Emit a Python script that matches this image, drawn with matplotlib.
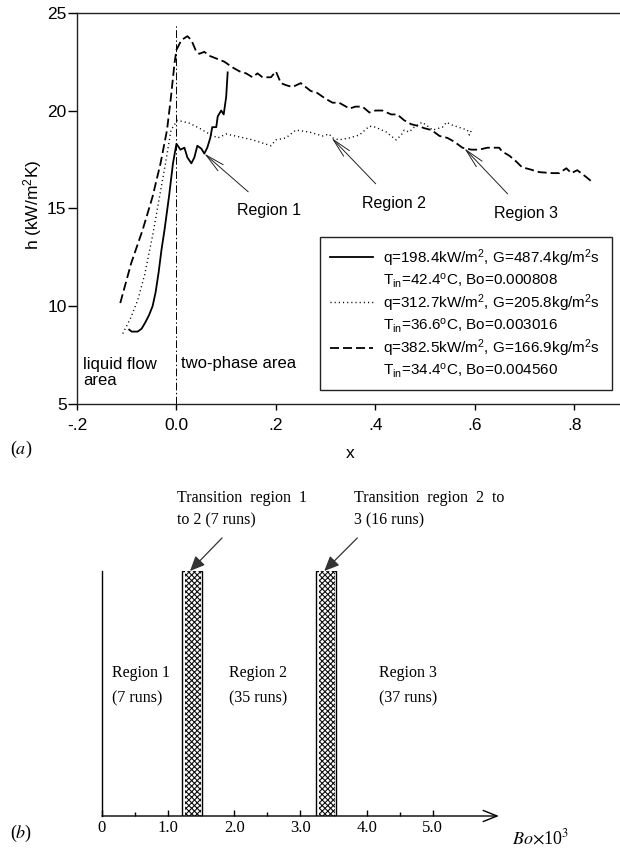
import matplotlib
matplotlib.use("Agg")
import matplotlib.pyplot as plt
from matplotlib.lines import Line2D

plt.rcParams['font.family'] = ['Liberation Sans', 'DejaVu Sans']
plt.rcParams['mathtext.fontset'] = 'custom'
plt.rcParams['mathtext.rm'] = 'Liberation Sans'
plt.rcParams['mathtext.it'] = 'Liberation Sans:italic'
plt.rcParams['mathtext.bf'] = 'Liberation Sans:bold'
plt.rcParams['hatch.linewidth'] = 0.8
plt.rcParams['hatch.color'] = 'black'

# ---------------- data (a) ----------------
solid_x = [-0.095, -0.09, -0.078, -0.07, -0.062, -0.055, -0.048, -0.042, -0.036, -0.03,
           -0.024, -0.015, -0.007, 0.0, 0.008, 0.016, 0.022, 0.03, 0.036, 0.042, 0.05,
           0.056, 0.062, 0.068, 0.072, 0.08, 0.083, 0.09, 0.095, 0.1, 0.103]
solid_h = [8.8, 8.7, 8.7, 8.85, 9.2, 9.55, 10.0, 10.7, 11.7, 12.9,
           13.9, 15.6, 17.3, 18.3, 18.0, 18.1, 17.6, 17.3, 17.6, 18.2, 18.05,
           17.8, 18.1, 18.6, 19.15, 19.15, 19.7, 20.0, 19.8, 20.7, 21.95]

dotted_x = [-0.108, -0.092, -0.078, -0.064, -0.048, -0.034, -0.022, -0.011, 0.002, 0.026,
            0.046, 0.066, 0.083, 0.1, 0.127, 0.153, 0.19, 0.2, 0.22, 0.24, 0.267, 0.294,
            0.307, 0.314, 0.327, 0.348, 0.368, 0.388, 0.40, 0.422, 0.434, 0.442, 0.452,
            0.458, 0.468, 0.478, 0.494, 0.508, 0.515, 0.535, 0.543, 0.555, 0.573, 0.585,
            0.589, 0.595]
dotted_h = [8.6, 9.4, 10.3, 11.6, 13.6, 15.6, 17.3, 19.0, 19.5, 19.35,
            19.1, 18.8, 18.6, 18.8, 18.65, 18.5, 18.2, 18.5, 18.6, 19.0, 18.9, 18.7,
            18.8, 18.6, 18.5, 18.6, 18.75, 19.2, 19.15, 18.9, 18.65, 18.5, 18.75,
            19.0, 18.9, 19.15, 19.4, 19.15, 19.0, 19.15, 19.4, 19.25, 19.1, 19.0,
            18.75, 19.1]

dashed_x = [-0.113, -0.091, -0.068, -0.048, -0.032, -0.019, -0.011, -0.004, 0.0, 0.01,
            0.022, 0.03, 0.04, 0.046, 0.056, 0.066, 0.076, 0.086, 0.096, 0.113, 0.127,
            0.14, 0.153, 0.163, 0.173, 0.19, 0.2, 0.21, 0.22, 0.233, 0.25, 0.26, 0.27,
            0.283, 0.30, 0.314, 0.327, 0.348, 0.36, 0.374, 0.388, 0.40, 0.414, 0.432,
            0.444, 0.458, 0.472, 0.488, 0.498, 0.513, 0.529, 0.545, 0.559, 0.575, 0.593,
            0.609, 0.625, 0.639, 0.649, 0.655, 0.669, 0.683, 0.695, 0.71, 0.73, 0.756,
            0.77, 0.784, 0.794, 0.806, 0.824, 0.836]
dashed_h = [10.16, 12.2, 13.9, 15.6, 17.3, 19.0, 20.7, 22.4, 23.1, 23.6,
            23.8, 23.6, 23.0, 22.9, 23.0, 22.8, 22.7, 22.6, 22.5, 22.2, 22.0,
            21.9, 21.7, 21.9, 21.7, 21.7, 22.0, 21.4, 21.3, 21.2, 21.4, 21.2, 21.0,
            20.9, 20.6, 20.4, 20.4, 20.1, 20.2, 20.2, 19.9, 20.0, 20.0, 19.8,
            19.8, 19.5, 19.3, 19.2, 19.1, 19.0, 18.7, 18.6, 18.4, 18.1, 18.0,
            18.0, 18.1, 18.1, 18.1, 17.9, 17.7, 17.4, 17.1, 17.0, 16.85, 16.8,
            16.8, 17.05, 16.8, 16.95, 16.6, 16.35]

series_labels = [
    (r'q=198.4kW/m$^2$, G=487.4kg/m$^2$s', r'T$_{\rm in}$=42.4$^{\rm o}$C, Bo=0.000808'),
    (r'q=312.7kW/m$^2$, G=205.8kg/m$^2$s', r'T$_{\rm in}$=36.6$^{\rm o}$C, Bo=0.003016'),
    (r'q=382.5kW/m$^2$, G=166.9kg/m$^2$s', r'T$_{\rm in}$=34.4$^{\rm o}$C, Bo=0.004560'),
]

region_tip_x = [0.056, 0.312, 0.579]
region_tip_h = [17.8, 18.6, 18.07]
region_txt_x = [0.187, 0.438, 0.703]
region_txt_h = [14.9, 15.27, 14.75]
region_names = ['Region 1', 'Region 2', 'Region 3']

x_ticks = [-0.2, 0.0, 0.2, 0.4, 0.6, 0.8]
x_ticklabels = ['-.2', '0.0', '.2', '.4', '.6', '.8']
y_ticks = [5, 10, 15, 20, 25]

# ---------------- data (b) ----------------
trans_lo = [1.21, 3.24]
trans_hi = [1.51, 3.54]
trans_labels = ['Transition  region  1\nto 2 (7 runs)', 'Transition  region  2  to\n3 (16 runs)']
regions_b = ['Region 1', 'Region 2', 'Region 3']
runs_b = [7, 35, 37]
bo_ticks = [0, 1, 2, 3, 4, 5]
bo_ticklabels = ['0', '1.0', '2.0', '3.0', '4.0', '5.0']
bo_minor = [0.5, 1.5, 2.5, 3.5, 4.5]

W, H = 620, 849
fig = plt.figure(figsize=(W / 100, H / 100), dpi=100)

# ================= (a) =================
ax = fig.add_axes([77 / W, 1 - 404 / H, 547 / W, (404 - 12.7) / H])
ax.set_xlim(-0.2, 0.9)
ax.set_ylim(5, 25)

l1, = ax.plot(solid_x, solid_h, color='black', lw=1.3, ls='-')
l2, = ax.plot(dotted_x, dotted_h, color='black', lw=1.0, ls=(0, (0.8, 2.2)))
l3, = ax.plot(dashed_x, dashed_h, color='black', lw=1.3, ls=(0, (5, 2.2)))

ax.plot([0, 0], [5, 24.4], color='black', lw=0.7, ls=(0, (8, 2.5, 1.5, 2.5)))

for tx, th, nx, nh, name in zip(region_tip_x, region_tip_h, region_txt_x, region_txt_h, region_names):
    ax.annotate(name, xy=(tx, th), xytext=(nx, nh), fontsize=11.5,
                ha='center', va='center',
                arrowprops=dict(arrowstyle='->,head_length=1.2,head_width=0.25',
                                lw=0.7, color='#222222', shrinkA=9, shrinkB=0))

ax.text(-0.188, 6.6, 'liquid flow\narea', fontsize=12, ha='left', va='center', linespacing=1.1)
ax.text(0.009, 7.07, 'two-phase area', fontsize=12, ha='left', va='center')

ax.set_xticks(x_ticks)
ax.set_xticklabels(x_ticklabels)
ax.set_yticks(y_ticks)
ax.tick_params(axis='x', direction='out', length=4, width=1, labelsize=12.5, pad=6)
ax.tick_params(axis='y', direction='out', length=6.5, width=1, labelsize=12.5, pad=1)
ax.spines['right'].set_visible(False)
for s in ['left', 'top', 'bottom']:
    ax.spines[s].set_linewidth(1.0)
    ax.spines[s].set_color('#222222')

fig.text(350 / W, 1 - 453 / H, 'x', fontsize=12.5, ha='center', va='center')
fig.text(33 / W, 1 - 205 / H, r'h (kW/m$^2$K)', fontsize=12.5, ha='center', va='center', rotation=90)

blank = Line2D([], [], color='none')
handles, labels = [], []
for ln, (a, b) in zip([l1, l2, l3], series_labels):
    handles += [ln, blank]
    labels += [a, b]
leg = fig.legend(handles, labels, loc='upper left',
                 bbox_to_anchor=(320 / W, 1 - 389 / H, 292 / W, 152 / H),
                 bbox_transform=fig.transFigure, mode='expand', borderaxespad=0,
                 fontsize=11, handlelength=2.8, handletextpad=0.7, labelspacing=0.17,
                 borderpad=0.65, fancybox=False, frameon=True, framealpha=1)
leg.get_frame().set_edgecolor('#222222')
leg.get_frame().set_linewidth(1.0)

fig.text(10 / W, 1 - 449 / H, r'($\mathit{a}$)', fontsize=13, ha='left', va='center',
         family='Liberation Serif', math_fontfamily='stix')

# ================= (b) =================
bx = fig.add_axes([102 / W, 1 - 816 / H, 430 / W, 245 / H])
bx.set_xlim(0, 6.5)
bx.set_ylim(0, 1)
serif = 'Liberation Serif'

widths = [h - l for l, h in zip(trans_lo, trans_hi)]
# outer frame of each transition band
bx.bar(trans_lo, [1] * len(trans_lo), width=widths, align='edge', bottom=0,
       facecolor='white', edgecolor='black', lw=1.0, zorder=2)
# inner cross-hatched fill
inner_lo = [l + 0.045 for l in trans_lo]
inner_w = [w - 0.06 for w in widths]
bx.bar(inner_lo, [1] * len(trans_lo), width=inner_w, align='edge', bottom=0,
       facecolor='white', edgecolor='#111111', lw=0, hatch='xxxxxx', zorder=3)

for s in ['top', 'right', 'bottom']:
    bx.spines[s].set_visible(False)
bx.spines['left'].set_linewidth(1.0)
bx.annotate('', xy=(6.0, 0), xytext=(0, 0), xycoords='data',
            arrowprops=dict(arrowstyle='->,head_length=1.0,head_width=0.4', lw=1.0,
                            color='black', shrinkA=0, shrinkB=0))
bx.set_yticks([])
bx.set_xticks(bo_ticks)
bx.set_xticklabels(bo_ticklabels, family=serif)
bx.set_xticks(bo_minor, minor=True)
bx.tick_params(axis='x', which='major', direction='in', length=4, width=1, labelsize=12, pad=3)
bx.tick_params(axis='x', which='minor', direction='in', length=3, width=1)

region_b_x = [0.15, 1.92, 4.18]
for rx, name, n in zip(region_b_x, regions_b, runs_b):
    bx.text(rx, 0.584, name, family=serif, fontsize=11.5, ha='left', va='center')
    bx.text(rx, 0.482, f'({n} runs)', family=serif, fontsize=11.5, ha='left', va='center')

trans_text_x = [1.135, 3.81]
arrow_start_x = [1.815, 3.86]
for lo, hi, tx, sx, lab in zip(trans_lo, trans_hi, trans_text_x, arrow_start_x, trans_labels):
    bx.text(tx, 1.251, lab, family=serif, fontsize=11.5, ha='left', va='center',
            linespacing=1.56, clip_on=False)
    bx.annotate('', xy=((lo + hi) / 2 - 0.03, 1.0), xytext=(sx, 1.135),
                arrowprops=dict(arrowstyle='-|>,head_length=0.9,head_width=0.4', lw=0.9,
                                color='#333333', shrinkA=0, shrinkB=0), annotation_clip=False)

fig.text(512 / W, 1 - 838 / H, r'$Bo$$\times$10$^3$', fontsize=13, ha='left', va='center',
         family=serif, math_fontfamily='stix')
fig.text(10 / W, 1 - 833 / H, r'($\mathit{b}$)', fontsize=13, ha='left', va='center',
         family=serif, math_fontfamily='stix')

fig.savefig('out.png', dpi=100)
